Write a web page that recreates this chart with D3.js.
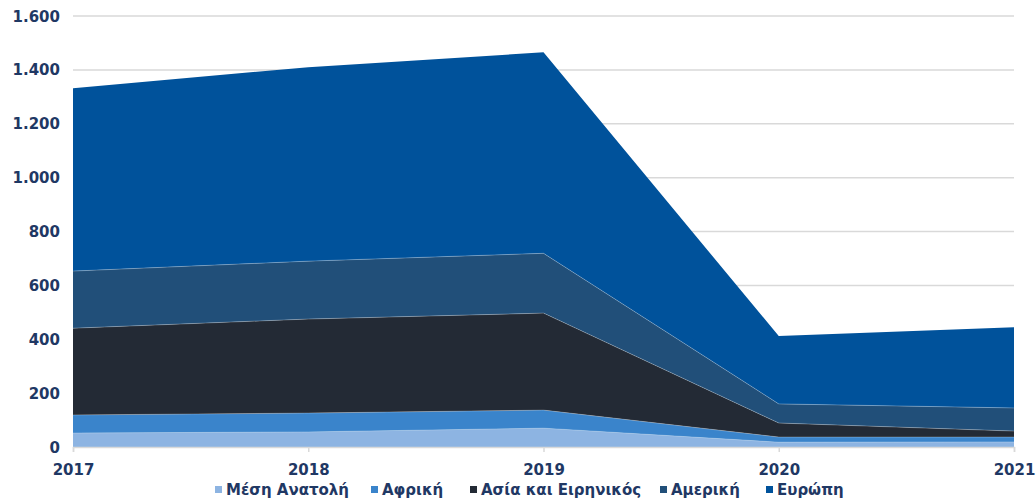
<!DOCTYPE html>
<html>
<head>
<meta charset="utf-8">
<script src="https://cdn.jsdelivr.net/npm/d3@7"></script>
<style>
  body { margin: 0; background: #fff; }
  text { font-family: "DejaVu Sans", Verdana, sans-serif; fill: #1f3864; font-weight: bold; }
</style>
</head>
<body>
<svg id="chart" width="1036" height="500"></svg>
<script>
const years = [2017, 2018, 2019, 2020, 2021]
const middleEast = [52, 56, 70, 18, 19]
const africa = [67, 70, 67, 19, 18]
const asia = [322, 349, 360, 52, 22]
const america = [212, 215, 222, 71, 86]
const europe = [679, 720, 746, 252, 300]
const yTicks = [0, 200, 400, 600, 800, 1000, 1200, 1400, 1600]

const keys = ["me", "af", "as", "am", "eu"]
const names = ["Μέση Ανατολή", "Αφρική", "Ασία και Ειρηνικός", "Αμερική", "Ευρώπη"]
const colors = ["#8db4e2", "#3a84cb", "#232a35", "#214f79", "#00529b"]
const series = [middleEast, africa, asia, america, europe]

let rows = years.map((yr, i) => {
  let r = { year: yr }
  keys.forEach((k, j) => r[k] = series[j][i])
  return r
})

const svg = d3.select("#chart")
const mLeft = 73, mRight = 1014, mTop = 16, mBottom = 447

let x = d3.scaleLinear().domain([2017, 2021]).range([mLeft, mRight])
let y = d3.scaleLinear().domain([0, 1600]).range([mBottom, mTop])

// gridlines
svg.append("g")
  .selectAll("line")
  .data(yTicks.slice(1))
  .enter().append("line")
    .attr("x1", mLeft).attr("x2", mRight)
    .attr("y1", d => y(d)).attr("y2", d => y(d))
    .attr("stroke", "#d9d9d9").attr("stroke-width", 1.5)

let stacked = d3.stack().keys(keys)(rows)

let area = d3.area()
  .x(d => x(d.data.year))
  .y0(d => y(d[0]))
  .y1(d => y(d[1]))

svg.append("g")
  .selectAll("path")
  .data(stacked)
  .enter().append("path")
    .attr("fill", (d, i) => colors[i])
    .attr("d", area)

// thin light edges between layers
let edge = d3.line().x(d => x(d.data.year)).y(d => y(d[1]))
svg.append("g")
  .selectAll("path")
  .data(stacked.slice(0, 4))
  .enter().append("path")
    .attr("fill", "none")
    .attr("stroke", "#ffffff")
    .attr("stroke-opacity", 0.25)
    .attr("stroke-width", 1)
    .attr("d", edge)

// x axis
let xAxis = d3.axisBottom(x).tickValues(years).tickFormat(d3.format("d")).tickSize(5)
let xG = svg.append("g")
  .attr("transform", "translate(0," + mBottom + ")")
  .call(xAxis)
xG.select(".domain").attr("stroke", "#d9d9d9").attr("stroke-width", 1.5)
xG.selectAll(".tick line").attr("stroke", "#d9d9d9").attr("stroke-width", 1.5)
xG.selectAll(".tick text")
  .attr("dy", "0")
  .attr("y", 28)
  .attr("fill", null)
  .style("font-size", "15px")

// y labels
svg.append("g")
  .selectAll("text")
  .data(yTicks)
  .enter().append("text")
    .attr("x", 60)
    .attr("y", d => y(d) + 5.5)
    .attr("text-anchor", "end")
    .style("font-size", "15px")
    .text(d => d3.format(",")(d).replace(/,/g, "."))

// legend
let legendX = [215, 371, 470, 660, 766]
let lg = svg.append("g")
lg.selectAll("rect")
  .data(names)
  .enter().append("rect")
    .attr("x", (d, i) => legendX[i])
    .attr("y", 486)
    .attr("width", 7).attr("height", 7)
    .attr("fill", (d, i) => colors[i])
lg.selectAll("text")
  .data(names)
  .enter().append("text")
    .attr("x", (d, i) => legendX[i] + 11)
    .attr("y", 495)
    .style("font-size", "15px")
    .text(d => d)
</script>
</body>
</html>
